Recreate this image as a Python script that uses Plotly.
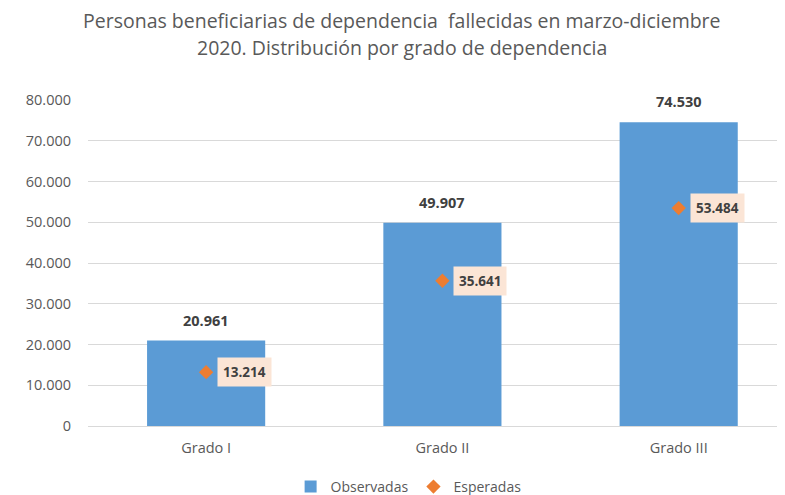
import plotly.graph_objects as go

categories = ["Grado I", "Grado II", "Grado III"]
observadas = [20961, 49907, 74530]
esperadas = [13214, 35641, 53484]
y_ticks = [0, 10000, 20000, 30000, 40000, 50000, 60000, 70000, 80000]
y_tick_labels = ["0", "10.000", "20.000", "30.000", "40.000", "50.000", "60.000", "70.000", "80.000"]
title_lines = ["Personas beneficiarias de dependencia  fallecidas en marzo-diciembre",
               "2020. Distribución por grado de dependencia"]

FONT = "Open Sans"
GREY = "#595959"
DARK = "#404040"

def fmt(v):
    return f"{v:,}".replace(",", ".")

fig = go.Figure()
fig.add_trace(go.Bar(
    x=categories, y=observadas, name="Observadas",
    marker=dict(color="#5B9BD5", line=dict(width=0)),
    width=0.5,
))
fig.add_trace(go.Scatter(
    x=categories, y=esperadas, name="Esperadas", mode="markers",
    marker=dict(symbol="diamond", color="#ED7D31", size=11),
))

for c, v in zip(categories, observadas):
    fig.add_annotation(x=c, y=v, text=f"<b>{fmt(v)}</b>", showarrow=False,
                       yanchor="bottom", yshift=9,
                       font=dict(family=FONT, size=14.5, color=DARK))
for c, v in zip(categories, esperadas):
    fig.add_annotation(x=c, y=v, text=f"<b>{fmt(v)}</b>", showarrow=False,
                       xanchor="left", xshift=11,
                       bgcolor="#FBE5D6", borderpad=5,
                       font=dict(family=FONT, size=13.5, color=DARK))

# title lines (centered on the figure)
for line, ypos in zip(title_lines, [1.245, 1.162]):
    fig.add_annotation(text=line, xref="paper", yref="paper", x=0.45, y=ypos,
                       xanchor="center", yanchor="middle", showarrow=False,
                       font=dict(family=FONT, size=19.5, color=GREY))

fig.update_layout(
    width=777, height=487,
    paper_bgcolor="white", plot_bgcolor="white",
    margin=dict(l=80, r=0, t=92, b=69, autoexpand=False),
    bargap=0.5,
    showlegend=True,
    legend=dict(orientation="h", x=0.46, xanchor="center", y=-0.187, yanchor="middle",
                font=dict(family=FONT, size=14, color=GREY), itemwidth=30,
                traceorder="normal"),
    font=dict(family=FONT, color=GREY),
)
fig.update_xaxes(range=[-0.5, 2.45], showgrid=False, showline=False, ticks="",
                 automargin=False, ticklabelstandoff=11,
                 tickfont=dict(family=FONT, size=14.5, color=GREY), fixedrange=True)
fig.update_yaxes(range=[0, 80000], tickvals=y_ticks, ticktext=y_tick_labels,
                 showgrid=True, gridcolor="#D9D9D9", gridwidth=1,
                 zeroline=True, zerolinecolor="#D9D9D9", zerolinewidth=1,
                 ticks="", ticklabelstandoff=16, automargin=False,
                 tickfont=dict(family=FONT, size=14.5, color=GREY), fixedrange=True)

fig.write_html("out.html")
